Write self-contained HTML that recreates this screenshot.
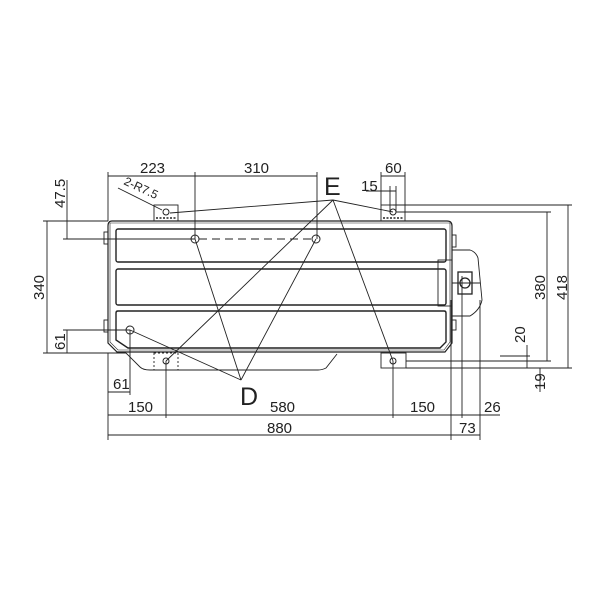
<!DOCTYPE html>
<html><head><meta charset="utf-8"><style>body{margin:0;background:#fff}svg{display:block}text{font-family:"Liberation Sans Narrow","Liberation Sans",sans-serif;fill:#222}</style></head><body>
<svg width="600" height="600" viewBox="0 0 600 600" stroke="#222" fill="none" stroke-width="0.9">
<path d="M112,221 H447 Q452,221 452,226 V343 L445,352 H117 L108,343 V226 Q108,221 112,221 Z" stroke-width="1.2"/>
<path d="M110,223 H450 V342 L444,350 H118 L110,342 Z" stroke-width="0.6"/>
<rect x="116" y="229" width="330" height="33" rx="2" stroke-width="1.4"/>
<rect x="116" y="269" width="330" height="36" rx="2" stroke-width="1.4"/>
<path d="M118,311 H444 Q446,311 446,313 V342 L440,348 H128 L116,340 V313 Q116,311 118,311 Z" stroke-width="1.4"/>
<path d="M126,353 L140,367 Q143,370 150,370 H318 Q322,370 326,368 L337,354"/>
<rect x="154" y="353" width="24" height="17" stroke-dasharray="2,2"/>
<rect x="381" y="353" width="25" height="15"/>
<rect x="154" y="205" width="24" height="16"/>
<rect x="381" y="205" width="24" height="16"/>
<path d="M156,218 H176 M383,218 H403" stroke-dasharray="2,1.5" stroke-width="1.5"/>
<path d="M452,250 H470 Q476,252 478,258 L482,300 Q480,310 470,316 H452" />
<rect x="438" y="260" width="14" height="46"/>
<rect x="458" y="272" width="14" height="22" stroke-width="1.3"/>
<circle cx="465" cy="283" r="5" stroke-width="1.3"/>
<path d="M452,283 H480"/>
<rect x="104" y="232" width="4" height="12"/><rect x="104" y="320" width="4" height="12"/>
<rect x="452" y="235" width="4" height="12"/><rect x="452" y="320" width="4" height="10"/>
<g stroke-width="1"><circle cx="195" cy="239" r="4"/><circle cx="316" cy="239" r="4"/><circle cx="130" cy="330" r="4"/><circle cx="166" cy="361" r="3"/><circle cx="393" cy="361" r="3"/><circle cx="166" cy="212" r="3"/><circle cx="393" cy="212" r="3"/></g>
<path d="M199,239 H312" stroke-dasharray="8,5"/>
<path d="M333,200 L170,213 M333,200 L166,361 M333,200 L393,212 M333,200 L393,361"/>
<path d="M241,380 L195,239 M241,380 L316,239 M241,380 L130,330"/>
<path d="M118,188 L162,210"/>
<path d="M108,176 H317 M108,172 V221 M195,172 V239 M317,172 V239 M381,176 H405 M381,172 V205 M405,172 V205 M366,191 H396 M390,186 V212 M396,186 V212"/>
<path d="M47,221 V353 M43,221 H108 M43,353 H126 M67,180 V239 M63,239 H195 M67,330 V353 M63,330 H130"/>
<path d="M108,353 V440 M166,361 V418 M393,361 V418 M451,300 V440 M462,276 V418 M480,300 V440 M130,330 V395 M108,392 H130 M108,415 H500 M108,435 H480"/>
<path d="M568,205 V368 M547,212 V361 M527,345 V368 M540,368 V392 M393,205 H572 M396,212 H551 M406,361 H551 M406,368 H572 M500,356 H530"/>
<g stroke="none" font-size="15">
<text x="140" y="173">223</text><text x="244" y="173">310</text><text x="385" y="173">60</text><text x="361" y="191">15</text>
<text x="123" y="184" font-size="12" transform="rotate(25 123 184)">2-R7.5</text>
<text x="324" y="195" font-size="25">E</text><text x="240" y="405" font-size="25">D</text>
<text x="113" y="389">61</text><text x="128" y="412">150</text><text x="270" y="412">580</text><text x="410" y="412">150</text><text x="484" y="412">26</text>
<text x="267" y="433">880</text><text x="459" y="433">73</text>
<text transform="translate(65,208) rotate(-90)">47.5</text>
<text transform="translate(44,300) rotate(-90)">340</text>
<text transform="translate(65,350) rotate(-90)">61</text>
<text transform="translate(545,300) rotate(-90)">380</text>
<text transform="translate(567,300) rotate(-90)">418</text>
<text transform="translate(525,343) rotate(-90)">20</text>
<text transform="translate(545,390) rotate(-90)">19</text>
</g>
</svg>
</body></html>
